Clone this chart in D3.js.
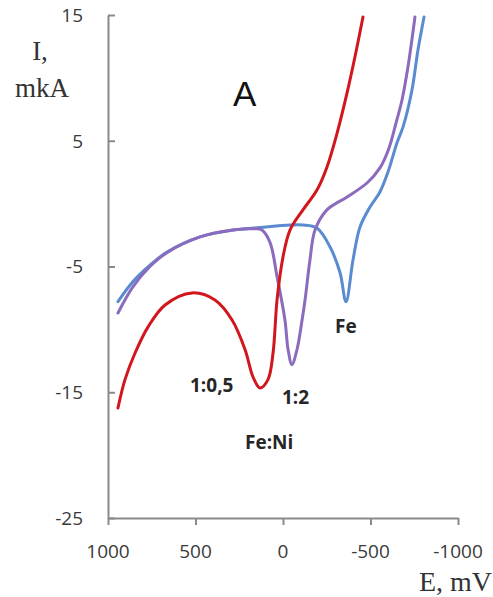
<!DOCTYPE html>
<html>
<head>
<meta charset="utf-8">
<script src="https://cdn.jsdelivr.net/npm/d3@7"></script>
<style>
  body { margin: 0; background: #fff; }
  svg { display: block; }
</style>
</head>
<body>
<script>
// potentials (mV) and currents (mkA)
var redE = [943, 903, 846, 771, 674, 520, 389, 291, 217, 171, 131, 86, 57, 34, 0, -40, -114, -194, -251, -309, -366, -411, -457];
var redI = [-16.25, -14.0, -11.9, -9.8, -8.06, -7.1, -7.66, -9.25, -11.6, -13.8, -14.66, -14.0, -11.9, -7.66, -4.24, -2.1, -0.5, 1.08, 2.9, 5.6, 8.8, 11.66, 14.84];

var purpleE = [943, 857, 760, 663, 474, 286, 160, 120, 74, 34, -11, -29, -51, -80, -109, -126, -154, -183, -251, -366, -480, -554, -606, -646, -680, -714, -754];
var purpleI = [-8.7, -6.6, -5.0, -3.9, -2.65, -2.1, -2.0, -2.1, -3.1, -5.8, -9.25, -11.6, -12.8, -11.6, -9.25, -7.66, -4.48, -2.1, -0.5, 0.53, 1.64, 2.84, 4.43, 6.42, 8.24, 10.86, 14.84];

var blueE = [943, 857, 760, 663, 474, 286, 131, -40, -114, -194, -269, -326, -360, -400, -440, -497, -554, -600, -651, -686, -737, -771, -806];
var blueI = [-7.8, -6.2, -4.9, -3.85, -2.65, -2.1, -1.9, -1.7, -1.7, -1.94, -3.45, -5.5, -7.8, -4.48, -1.86, -0.27, 0.93, 2.52, 4.82, 6.1, 9.04, 12.2, 14.84];

var xTicks = [1000, 500, 0, -500, -1000];
var yTicks = [15, 5, -5, -15, -25];

var width = 493, height = 597;
var plot = {left: 108, right: 458, top: 15, bottom: 518};

var svg = d3.select("body").append("svg")
    .attr("width", width)
    .attr("height", height);

var x = d3.scaleLinear().domain([1000, -1000]).range([plot.left, plot.right]);
var y = d3.scaleLinear().domain([-25, 15]).range([plot.bottom, plot.top]);

// y axis, ticks pointing inside
svg.append("g")
    .attr("transform", "translate(" + plot.left + ",0)")
    .call(d3.axisRight(y).tickValues(yTicks).tickSize(7).tickSizeOuter(0).tickFormat(""));
// x axis, ticks below
svg.append("g")
    .attr("transform", "translate(0," + plot.bottom + ")")
    .call(d3.axisBottom(x).tickValues(xTicks).tickSize(7).tickSizeOuter(0).tickFormat(""));

svg.selectAll(".domain, .tick line")
    .attr("stroke", "#8a8a8a")
    .attr("stroke-width", 2);

// tick labels
svg.selectAll(".ylab")
    .data(yTicks)
  .enter().append("text")
    .attr("x", 83)
    .attr("y", function(d) { return y(d); })
    .attr("dy", "0.36em")
    .attr("text-anchor", "end")
    .style("font-family", "Open Sans")
    .style("font-size", "19px")
    .style("fill", "#3a3a3a")
    .text(function(d) { return d; });

svg.selectAll(".xlab")
    .data(xTicks)
  .enter().append("text")
    .attr("x", function(d) { return x(d); })
    .attr("y", 558)
    .attr("text-anchor", "middle")
    .style("font-family", "Open Sans")
    .style("font-size", "19px")
    .style("fill", "#3a3a3a")
    .text(function(d) { return d; });

// axis titles (serif, as in the original)
svg.append("text")
    .attr("x", 40).attr("y", 60)
    .attr("text-anchor", "middle")
    .style("font-family", "Liberation Serif")
    .style("font-size", "27px")
    .style("fill", "#333")
    .text("I,");
svg.append("text")
    .attr("x", 42).attr("y", 97)
    .attr("text-anchor", "middle")
    .style("font-family", "Liberation Serif")
    .style("font-size", "27px")
    .style("fill", "#333")
    .text("mkA");
svg.append("text")
    .attr("x", 492).attr("y", 591)
    .attr("text-anchor", "end")
    .style("font-family", "Liberation Serif")
    .style("font-size", "28px")
    .style("fill", "#333")
    .text("E, mV");

// panel letter
svg.append("text")
    .attr("x", 233).attr("y", 106)
    .style("font-family", "Liberation Sans")
    .style("font-size", "35px")
    .style("fill", "#111")
    .text("A");

// curves
var line = d3.line()
    .x(function(d) { return x(d[0]); })
    .y(function(d) { return y(d[1]); })
    .curve(d3.curveCatmullRom.alpha(0.5));

var series = [
  {E: blueE, I: blueI, color: "#5a8ad0"},
  {E: purpleE, I: purpleI, color: "#8a6bbd"},
  {E: redE, I: redI, color: "#d2161e"}
];

svg.selectAll(".curve")
    .data(series)
  .enter().append("path")
    .attr("class", "curve")
    .attr("fill", "none")
    .attr("stroke", function(d) { return d.color; })
    .attr("stroke-width", 3)
    .attr("stroke-linecap", "round")
    .attr("stroke-linejoin", "round")
    .attr("d", function(d) { return line(d.E.map(function(e, i) { return [e, d.I[i]]; })); });

// curve labels
var labels = [
  {t: "1:0,5", x: 190, y: 392},
  {t: "1:2", x: 282, y: 404},
  {t: "Fe:Ni", x: 245, y: 449},
  {t: "Fe", x: 335, y: 333}
];
svg.selectAll(".lab")
    .data(labels)
  .enter().append("text")
    .attr("x", function(d) { return d.x; })
    .attr("y", function(d) { return d.y; })
    .style("font-family", "Open Sans")
    .style("font-weight", "bold")
    .style("font-size", "19px")
    .style("fill", "#262626")
    .text(function(d) { return d.t; });
</script>
</body>
</html>
